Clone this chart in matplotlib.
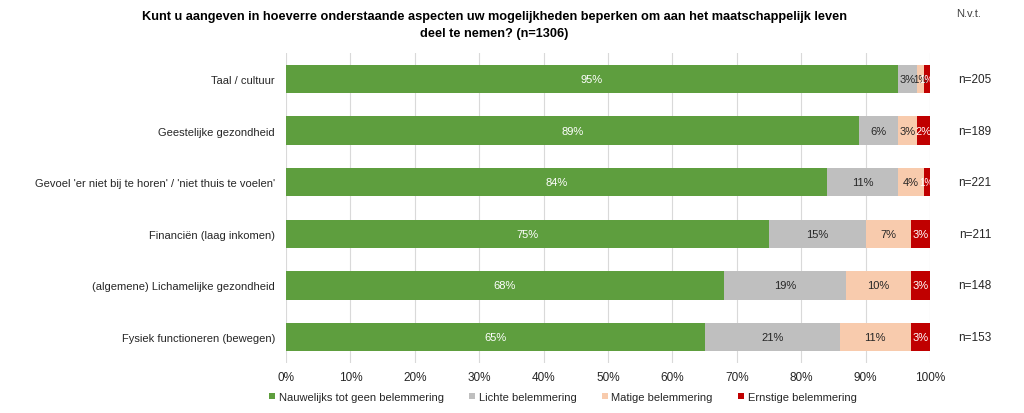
import matplotlib
matplotlib.use("Agg")
import matplotlib.pyplot as plt
import numpy as np

plt.rcParams['font.family'] = ['Liberation Sans', 'DejaVu Sans']

categories = ["Taal / cultuur", "Geestelijke gezondheid",
              "Gevoel 'er niet bij te horen' / 'niet thuis te voelen'",
              "Financiën (laag inkomen)", "(algemene) Lichamelijke gezondheid",
              "Fysiek functioneren (bewegen)"]
series_names = ["Nauwelijks tot geen belemmering", "Lichte belemmering",
                "Matige belemmering", "Ernstige belemmering"]
nauwelijks = [95, 89, 84, 75, 68, 65]
lichte = [3, 6, 11, 15, 19, 21]
matige = [1, 3, 4, 7, 10, 11]
ernstige = [1, 2, 1, 3, 3, 3]
nvt = ["n=205", "n=189", "n=221", "n=211", "n=148", "n=153"]
colors = ["#5E9E3E", "#BFBFBF", "#F8CBAD", "#C00000"]
label_colors = ["white", "#262626", "#262626", "white"]

fig = plt.figure(figsize=(10.24, 4.14), dpi=100)
ax = fig.add_axes([0.2793, 0.121, 0.6289, 0.748])

data = [nauwelijks, lichte, matige, ernstige]
y = np.arange(len(categories))
left = np.zeros(len(categories))
for vals, c, lc, name in zip(data, colors, label_colors, series_names):
    vals = np.array(vals, dtype=float)
    ax.barh(y, vals, left=left, height=0.55, color=c, label=name, zorder=3)
    for yi, (l, v) in enumerate(zip(left, vals)):
        ax.text(l + v / 2, yi, f"{v:.0f}%", ha="center", va="center",
                fontsize=8 if v >= 2 else 7, color=lc, zorder=4)
    left += vals

ax.set_xlim(0, 100)
ax.set_ylim(len(categories) - 0.5, -0.5)
ax.set_xticks(np.arange(0, 101, 10))
ax.set_xticklabels([f"{t}%" for t in range(0, 101, 10)], fontsize=8.5, color="#262626")
ax.set_yticks(y)
ax.set_yticklabels(categories, fontsize=8, color="#262626")
ax.tick_params(axis="y", length=0, pad=8)
ax.tick_params(axis="x", length=0, pad=6)
for s in ax.spines.values():
    s.set_visible(False)
ax.xaxis.grid(True, color="#D9D9D9", linewidth=0.8, zorder=0)
ax.set_axisbelow(True)

for yi, t in zip(y, nvt):
    ax.text(1.07, yi, t, transform=ax.get_yaxis_transform(), ha="center",
            va="center", fontsize=8.5, color="#262626")
fig.text(0.946, 0.965, "N.v.t.", ha="center", va="center", fontsize=8, color="#404040")

fig.text(0.483, 0.958, "Kunt u aangeven in hoeverre onderstaande aspecten uw mogelijkheden beperken om aan het maatschappelijk leven",
         ha="center", va="center", fontsize=9.2, fontweight="bold", color="#000000")
fig.text(0.483, 0.918, "deel te nemen? (n=1306)",
         ha="center", va="center", fontsize=9.2, fontweight="bold", color="#000000")

ax.legend(loc="center", bbox_to_anchor=(0.43, -0.11), ncol=4, frameon=False,
          fontsize=8, handlelength=0.55, handleheight=0.55, handletextpad=0.3,
          columnspacing=2.3, labelcolor="#262626")

fig.savefig("out.png", dpi=100)
